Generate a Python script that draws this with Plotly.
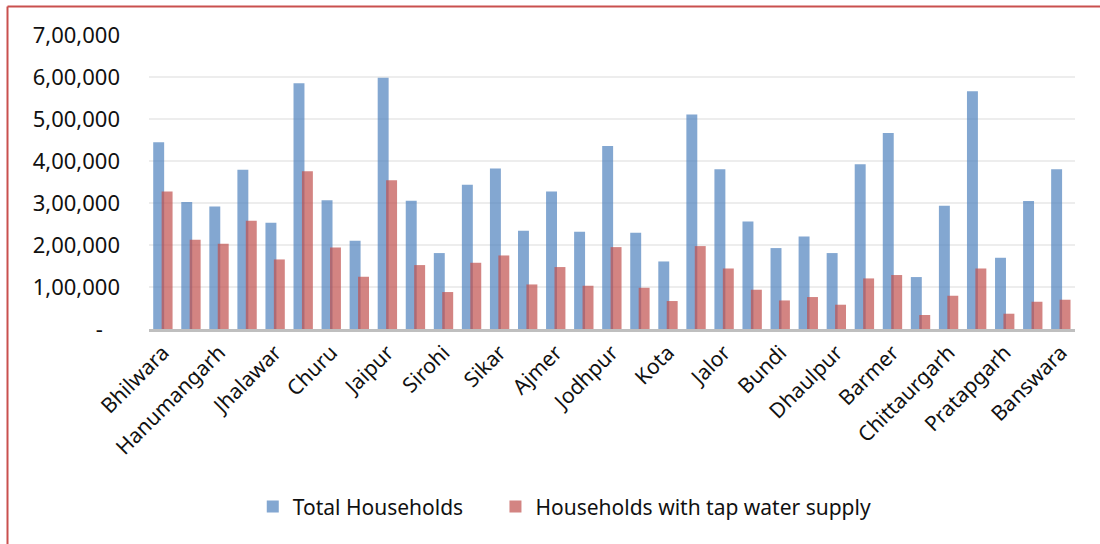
import plotly.graph_objects as go

districts = [
    "Bhilwara", "Ganganagar", "Hanumangarh", "Jhunjhunu", "Jhalawar", "Nagaur",
    "Churu", "Rajsamand", "Jaipur", "Bikaner", "Sirohi", "Tonk", "Sikar", "Dausa",
    "Ajmer", "Baran", "Jodhpur", "Pali", "Kota", "Alwar", "Jalor", "Sawai Madhopur",
    "Bundi", "Karauli", "Dhaulpur", "Bharatpur", "Barmer", "Jaisalmer",
    "Chittaurgarh", "Udaipur", "Pratapgarh", "Dungarpur", "Banswara",
]

total_households = [
    444800, 302100, 291600, 378900, 252900, 585200, 306800, 210000, 598500,
    305200, 180800, 343300, 382000, 233800, 327300, 231400, 436000, 229100,
    160800, 510500, 380600, 255900, 192700, 220300, 180800, 392500, 466900,
    123700, 293300, 566100, 169600, 304500, 380600,
]

tap_households = [
    327300, 212400, 202900, 257600, 165600, 375800, 194100, 124400, 354400,
    152200, 88000, 157700, 175100, 106100, 147500, 103000, 195000, 98200,
    66600, 197400, 144100, 93500, 68000, 76100, 57800, 120400, 128500,
    33300, 79200, 144100, 36400, 64900, 69700,
]

y_tick_values = [0, 100000, 200000, 300000, 400000, 500000, 600000, 700000]
y_tick_labels = ["-\u00a0\u00a0\u00a0", "1,00,000", "2,00,000", "3,00,000",
                 "4,00,000", "5,00,000", "6,00,000", "7,00,000"]

series_names = ["Total Households", "Households with tap water supply"]

FONT = "Noto Sans"

fig = go.Figure()
fig.add_trace(go.Bar(
    x=districts, y=total_households, name=series_names[0] + "\u00a0" * 5,
    marker=dict(color="rgba(79,129,189,0.7)", line=dict(width=0)),
    width=0.39, offset=-0.35,
))
fig.add_trace(go.Bar(
    x=districts, y=tap_households, name=series_names[1],
    marker=dict(color="rgba(192,80,77,0.7)", line=dict(width=0)),
    width=0.39, offset=-0.05,
))

fig.update_layout(
    width=1100, height=544,
    barmode="overlay",
    margin=dict(l=149, r=25, t=35, b=215),
    paper_bgcolor="white", plot_bgcolor="white",
    font=dict(family=FONT, color="#111111"),
    showlegend=True,
    legend=dict(
        orientation="h", x=0.449, xanchor="center", y=-0.605, yanchor="middle",
        font=dict(family=FONT, size=21, color="#111111"),
        traceorder="normal",
    ),
    xaxis=dict(
        type="category",
        tickmode="array", tickvals=districts[::2], ticktext=districts[::2],
        tickangle=-45, tickfont=dict(family=FONT, size=21, color="#111111"),
        showgrid=False, showline=True, linecolor="#BFBFBF", linewidth=3,
        ticks="", range=[-0.5, len(districts) - 0.5], fixedrange=True,
    ),
    yaxis=dict(
        range=[0, 700000],
        tickmode="array", tickvals=y_tick_values, ticktext=y_tick_labels,
        tickfont=dict(family=FONT, size=22, color="#111111"),
        showgrid=True, gridcolor="#EDEDED", gridwidth=2,
        zeroline=False, showline=False, ticks="", ticklabelstandoff=28,
    ),
    shapes=[
        dict(type="line", xref="paper", yref="paper",
             x0=(7.5 - 149) / 926, x1=(1100 - 149) / 926,
             y0=(329 - 6.5) / 294, y1=(329 - 6.5) / 294,
             line=dict(color="#C9504E", width=2)),
        dict(type="line", xref="paper", yref="paper",
             x0=(7.5 - 149) / 926, x1=(7.5 - 149) / 926,
             y0=(329 - 6.5) / 294, y1=(329 - 544) / 294,
             line=dict(color="#C9504E", width=2)),
    ],
)

fig.write_html("out.html")
